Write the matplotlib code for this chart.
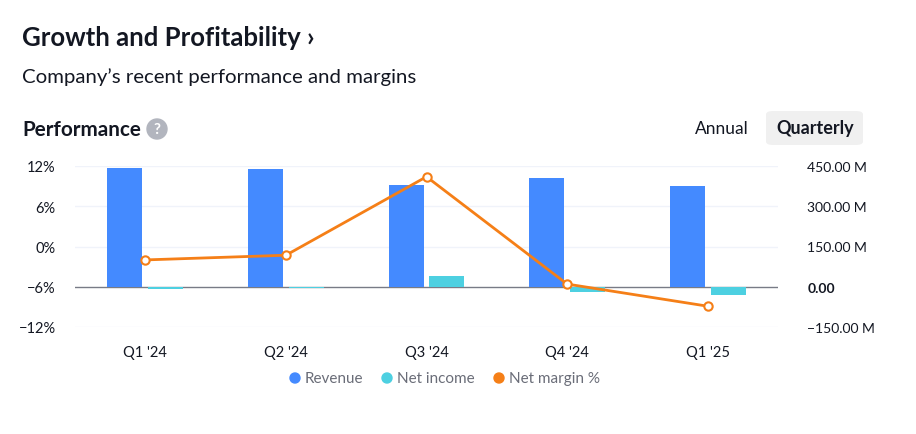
import numpy as np
import matplotlib.pyplot as plt
from matplotlib.patches import FancyBboxPatch, Ellipse

plt.rcParams['font.family'] = ['Lato', 'DejaVu Sans']

# data
quarters = ["Q1 '24", "Q2 '24", "Q3 '24", "Q4 '24", "Q1 '25"]
revenue_m = [443, 440, 380, 405, 375]
net_income_m = [-7, -5, 41, -21, -32]
net_margin_pct = [-2.0, -1.3, 10.4, -5.6, -8.9]

left_ticks = [-12, -6, 0, 6, 12]
right_ticks = [-150, 0, 150, 300, 450]

C_REV = '#448AFF'
C_NI = '#4DD0E1'
C_NM = '#F57F17'
C_TXT = '#131722'

W, H = 916, 435
fig = plt.figure(figsize=(W / 100, H / 100), dpi=100)


def fx(px):
    return px / W


def fy(py):
    return 1 - py / H


def dot(px, py, r, col):
    fig.patches.append(Ellipse((fx(px), fy(py)), 2 * r / W, 2 * r / H,
                               transform=fig.transFigure, color=col, figure=fig))


# header texts
fig.text(fx(22), fy(38), "Growth and Profitability \u203a", fontsize=18.5,
         fontweight='bold', color=C_TXT, va='center', ha='left')
fig.text(fx(22), fy(77), "Company\u2019s recent performance and margins", fontsize=14.7,
         color=C_TXT, va='center', ha='left')
fig.text(fx(22), fy(130), "Performance", fontsize=14.9, fontweight='bold',
         color=C_TXT, va='center', ha='left')
dot(157, 130, 10, '#B2B5BE')
fig.text(fx(157), fy(130.5), "?", fontsize=11, fontweight='bold', color='white',
         va='center', ha='center')

fig.patches.append(FancyBboxPatch((fx(766), fy(146)), 97 / W, 34 / H,
                                  boxstyle="round,pad=0,rounding_size=0.008",
                                  transform=fig.transFigure, facecolor='#F0F0F0',
                                  edgecolor='none', figure=fig))
fig.text(fx(722), fy(129), "Annual", fontsize=12.5, color=C_TXT, va='center', ha='center')
fig.text(fx(815), fy(129), "Quarterly", fontsize=13, fontweight='bold', color=C_TXT,
         va='center', ha='center')

# chart axes
ax = fig.add_axes([fx(75), fy(328), (778 - 75) / W, (328 - 167) / H])
ax2 = ax.twinx()

x = np.arange(len(quarters))
bw = 0.25
off = 0.145

for yv in right_ticks:
    if yv == 0:
        continue
    ax2.axhline(yv, color='#F0F3FA', lw=1, zorder=0)
ax2.axhline(0, color='#787B86', lw=1, zorder=1)
ax2.bar(x - off, revenue_m, width=bw, color=C_REV, zorder=2)
ax2.bar(x + off, net_income_m, width=bw, color=C_NI, zorder=2)
ax2.set_ylim(-150, 450)
ax2.set_yticks(right_ticks)
ax2.set_yticklabels(['\u2212150.00 M', '0.00', '150.00 M', '300.00 M', '450.00 M'])
for lbl in ax2.get_yticklabels():
    if lbl.get_text() == '0.00':
        lbl.set_fontweight('bold')

ax.plot(x, net_margin_pct, color=C_NM, lw=2, marker='o', markersize=6,
        markerfacecolor='white', markeredgecolor=C_NM, markeredgewidth=1.5, zorder=5)
ax.set_ylim(-12, 12)
ax.set_yticks(left_ticks)
ax.set_yticklabels(['\u221212%', '\u22126%', '0%', '6%', '12%'])
ax.set_xlim(-0.5, len(quarters) - 0.5)
ax.set_xticks(x)
ax.set_xticklabels(quarters)

ax.set_zorder(ax2.get_zorder() + 1)
ax.patch.set_visible(False)

for a in (ax, ax2):
    for s in a.spines.values():
        s.set_visible(False)
    a.tick_params(length=0, labelsize=10.5, colors=C_TXT)
ax.tick_params(axis='y', pad=14)
ax.tick_params(axis='x', pad=13)
ax2.tick_params(axis='y', pad=21, labelsize=10)

# legend
legend_items = [(295, 'Revenue', C_REV), (387, 'Net income', C_NI), (499, 'Net margin %', C_NM)]
for px, label, col in legend_items:
    dot(px, 379, 5, col)
    fig.text(fx(px + 10), fy(379), label, fontsize=11, color='#6A6D78',
             va='center', ha='left')

fig.savefig('out.png', dpi=100)
